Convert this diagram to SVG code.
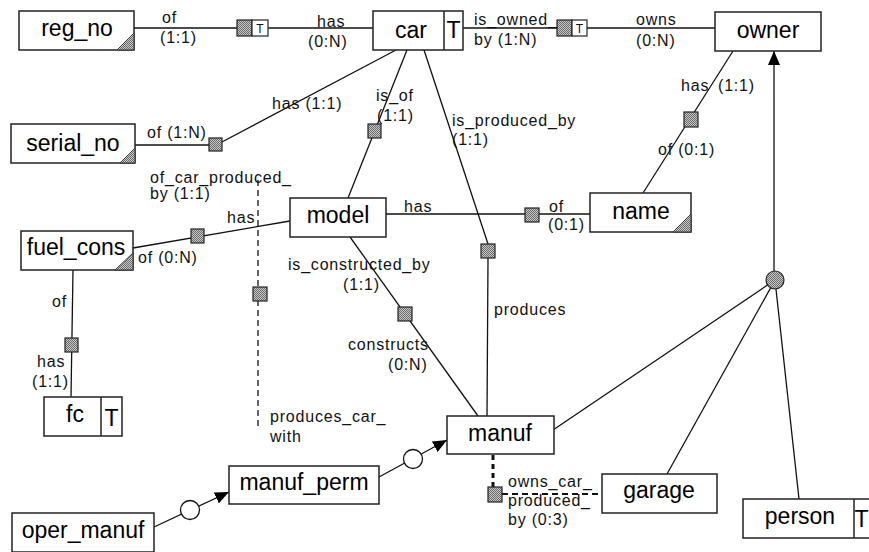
<svg xmlns="http://www.w3.org/2000/svg" width="869" height="552" viewBox="0 0 869 552">
<defs>
<pattern id="dots" width="2" height="2" patternUnits="userSpaceOnUse">
<rect width="2" height="2" fill="#c8c8c8"/>
<rect width="1" height="1" fill="#6a6a6a"/>
<rect x="1" y="1" width="1" height="1" fill="#6a6a6a"/>
</pattern>
<marker id="arr" markerUnits="userSpaceOnUse" markerWidth="15" markerHeight="12" refX="14" refY="6" orient="auto">
<path d="M0,0 L14,6 L0,12 z" fill="#000"/>
</marker>
</defs>
<style>
.ent{fill:#fff;stroke:#222;stroke-width:1.5}
.en{font-family:"Liberation Sans",Arial,sans-serif;font-size:23px;fill:#000;text-anchor:middle}
.lb{font-family:"Liberation Sans",Arial,sans-serif;font-size:16px;letter-spacing:0.8px;fill:#111}
.ln{stroke:#111;stroke-width:1.3;fill:none}
.sq{fill:url(#dots);stroke:#222;stroke-width:1.2}
.tri{fill:url(#dots);stroke:#333;stroke-width:1}
.tb{fill:#fff;stroke:#222;stroke-width:1.2}
.ts{font-family:"Liberation Sans",Arial,sans-serif;font-size:12px;fill:#111;text-anchor:middle}
.oc{fill:#fff;stroke:#111;stroke-width:1.3}
</style>

<g id="connectors">
<line class="ln" x1="134" y1="28" x2="237" y2="28"/>
<line class="ln" x1="268" y1="28" x2="373" y2="28"/>
<line class="ln" x1="463" y1="28" x2="557" y2="28"/>
<line class="ln" x1="587" y1="28" x2="715" y2="28"/>
<line class="ln" x1="135" y1="145" x2="209" y2="145"/>
<line class="ln" x1="220" y1="143" x2="396" y2="50"/>
<line class="ln" x1="407" y1="50" x2="348" y2="198"/>
<line class="ln" x1="424" y1="50" x2="488" y2="244"/>
<line class="ln" x1="488" y1="258" x2="487" y2="416"/>
<line class="ln" x1="733" y1="51" x2="643" y2="193"/>
<line class="ln" x1="386" y1="214" x2="590" y2="214"/>
<line class="ln" x1="290" y1="221" x2="133" y2="248"/>
<line class="ln" x1="73" y1="270" x2="71" y2="397"/>
<line class="ln" x1="350" y1="237" x2="478" y2="416"/>
<line class="ln" x1="258" y1="180" x2="258" y2="428" stroke-dasharray="6,4"/>
<line class="ln" x1="553" y1="430" x2="775" y2="280"/>
<line class="ln" x1="775" y1="280" x2="667" y2="474"/>
<line class="ln" x1="775" y1="280" x2="799" y2="499"/>
<line class="ln" x1="774" y1="271" x2="774" y2="51" marker-end="url(#arr)"/>
<line x1="493" y1="455" x2="493" y2="487" stroke="#111" stroke-width="3" stroke-dasharray="5,4"/>
<line x1="502" y1="494" x2="602" y2="494" stroke="#111" stroke-width="2" stroke-dasharray="6,4"/>
<line class="ln" x1="154" y1="527" x2="229" y2="492" marker-end="url(#arr)"/>
<line class="ln" x1="379" y1="477" x2="447" y2="440" marker-end="url(#arr)"/>
<circle class="oc" cx="190" cy="510" r="9.5"/>
<circle class="oc" cx="413" cy="459" r="9.5"/>
<circle cx="775" cy="280" r="9" fill="url(#dots)" stroke="#222" stroke-width="1.2"/>
<rect class="sq" x="237" y="20" width="15" height="16"/>
<rect class="tb" x="252" y="20" width="16" height="16"/>
<text class="ts" x="260" y="32.5">T</text>
<rect class="sq" x="557" y="20" width="15" height="16"/>
<rect class="tb" x="572" y="20" width="15" height="16"/>
<text class="ts" x="579.5" y="32.5">T</text>
<rect class="sq" x="209" y="138" width="13" height="13"/>
<rect class="sq" x="368" y="124" width="13" height="14"/>
<rect class="sq" x="481" y="244" width="14" height="14"/>
<rect class="sq" x="684" y="112" width="14" height="15"/>
<rect class="sq" x="525" y="208" width="14" height="14"/>
<rect class="sq" x="191" y="229" width="13" height="14"/>
<rect class="sq" x="65" y="338" width="13" height="14"/>
<rect class="sq" x="253" y="287" width="14" height="14"/>
<rect class="sq" x="398" y="307" width="14" height="14"/>
<rect class="sq" x="488" y="487" width="14" height="15"/>
<text class="lb" x="162" y="23">of</text>
<text class="lb" x="160" y="43">(1:1)</text>
<text class="lb" x="317" y="27">has</text>
<text class="lb" x="308" y="47">(0:N)</text>
<text class="lb" x="474" y="25">is_owned_</text>
<text class="lb" x="474" y="45">by (1:N)</text>
<text class="lb" x="636" y="25">owns</text>
<text class="lb" x="636" y="46">(0:N)</text>
<text class="lb" x="272" y="109">has (1:1)</text>
<text class="lb" x="147" y="138">of (1:N)</text>
<text class="lb" x="376" y="101">is_of</text>
<text class="lb" x="377" y="121">(1:1)</text>
<text class="lb" x="452" y="126">is_produced_by</text>
<text class="lb" x="452" y="145">(1:1)</text>
<text class="lb" x="681" y="91">has</text>
<text class="lb" x="718" y="91">(1:1)</text>
<text class="lb" x="658" y="155">of (0:1)</text>
<text class="lb" x="150" y="183">of_car_produced_</text>
<text class="lb" x="150" y="199">by (1:1)</text>
<text class="lb" x="227" y="223">has</text>
<text class="lb" x="138" y="263">of (0:N)</text>
<text class="lb" x="404" y="212">has</text>
<text class="lb" x="549" y="212">of</text>
<text class="lb" x="548" y="230">(0:1)</text>
<text class="lb" x="288" y="270">is_constructed_by</text>
<text class="lb" x="343" y="290">(1:1)</text>
<text class="lb" x="494" y="315">produces</text>
<text class="lb" x="52" y="307">of</text>
<text class="lb" x="37" y="367">has</text>
<text class="lb" x="32" y="387">(1:1)</text>
<text class="lb" x="348" y="350">constructs</text>
<text class="lb" x="388" y="370">(0:N)</text>
<text class="lb" x="270" y="422">produces_car_</text>
<text class="lb" x="270" y="442">with</text>
<text class="lb" x="508" y="487">owns_car_</text>
<text class="lb" x="508" y="506">produced_</text>
<text class="lb" x="508" y="525">by (0:3)</text>
</g>

<g id="reg_no">
<rect class="ent" x="19" y="11" width="115" height="39"/>
<polygon class="tri" points="117,50 134,50 134,33"/>
<text class="en" x="77" y="36">reg_no</text>
</g>
<g id="car">
<rect class="ent" x="373" y="11" width="90" height="39"/>
<line x1="444" y1="11" x2="444" y2="50" stroke="#222" stroke-width="1.5"/>
<text class="en" x="411" y="38">car</text>
<text class="en" x="453.5" y="38">T</text>
</g>
<g id="owner">
<rect class="ent" x="715" y="12" width="106" height="39"/>
<text class="en" x="768" y="38">owner</text>
</g>
<g id="serial_no">
<rect class="ent" x="11" y="124" width="124" height="39"/>
<polygon class="tri" points="120,163 135,163 135,148"/>
<text class="en" x="73" y="151">serial_no</text>
</g>
<g id="name">
<rect class="ent" x="590" y="193" width="101" height="39"/>
<polygon class="tri" points="673,232 691,232 691,214"/>
<text class="en" x="641" y="219">name</text>
</g>
<g id="model">
<rect class="ent" x="290" y="198" width="96" height="39"/>
<text class="en" x="338" y="223">model</text>
</g>
<g id="fuel_cons">
<rect class="ent" x="21" y="231" width="112" height="39"/>
<polygon class="tri" points="115,270 133,270 133,253"/>
<text class="en" x="76" y="255">fuel_cons</text>
</g>
<g id="fc">
<rect class="ent" x="44" y="397" width="78" height="39"/>
<line x1="101" y1="397" x2="101" y2="436" stroke="#222" stroke-width="1.5"/>
<text class="en" x="75" y="422">fc</text>
<text class="en" x="111.5" y="426">T</text>
</g>
<g id="manuf">
<rect class="ent" x="447" y="416" width="107" height="38"/>
<text class="en" x="500" y="441">manuf</text>
</g>
<g id="garage">
<rect class="ent" x="602" y="474" width="115" height="39"/>
<text class="en" x="659" y="498">garage</text>
</g>
<g id="person">
<rect class="ent" x="743" y="499" width="132" height="39"/>
<line x1="854" y1="499" x2="854" y2="538" stroke="#222" stroke-width="1.5"/>
<text class="en" x="800" y="524">person</text>
<text class="en" x="861.5" y="527" font-size="22">T</text>
</g>
<g id="manuf_perm">
<rect class="ent" x="229" y="466" width="150" height="38"/>
<text class="en" x="304" y="490">manuf_perm</text>
</g>
<g id="oper_manuf">
<rect class="ent" x="12" y="513" width="142" height="39"/>
<text class="en" x="83" y="538">oper_manuf</text>
</g>
</svg>
